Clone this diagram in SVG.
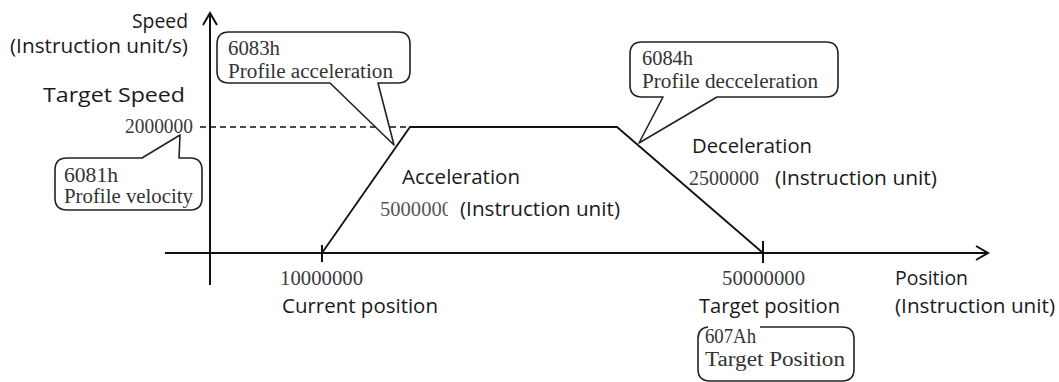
<svg xmlns="http://www.w3.org/2000/svg" width="1059" height="382" viewBox="0 0 1059 382">
  <style>
    .axis { fill: none; stroke: #111; stroke-width: 2; }
    .profile { fill: none; stroke: #111; stroke-width: 1.8; stroke-linejoin: miter; }
    .dash { fill: none; stroke: #111; stroke-width: 1.6; stroke-dasharray: 6 4; }
    .bubble { fill: #fff; stroke: #222; stroke-width: 1.6; stroke-linejoin: round; }
    .sans { font-family: "Open Sans", "Noto Sans", "Liberation Sans", sans-serif; font-size: 20px; fill: #1a1a1a; }
    .serif { font-family: "Liberation Serif", "DejaVu Serif", serif; font-size: 20px; fill: #333; }
    .num { font-family: "Liberation Serif", "DejaVu Serif", serif; font-size: 20px; fill: #3a3a3a; }
    .faint { fill: #555; }
  </style>
  <defs>
    <clipPath id="clip-accel-value">
      <rect x="370" y="190" width="78" height="40"/>
    </clipPath>
  </defs>

  <rect width="1059" height="382" fill="#fff"/>

  <!-- axes -->
  <g id="axes">
    <line class="axis" x1="210" y1="285" x2="210" y2="14"/>
    <polyline class="axis" points="203,25 210,13 217,25"/>
    <line class="axis" x1="165" y1="253" x2="987" y2="253"/>
    <polyline class="axis" points="976,246 988,253 976,260"/>
    <line class="axis" x1="322" y1="245" x2="322" y2="262"/>
    <line class="axis" x1="763" y1="241" x2="763" y2="263"/>
  </g>

  <!-- speed profile -->
  <g id="connectors">
    <line class="dash" x1="200" y1="127" x2="408" y2="127"/>
    <polyline class="profile" points="322,253 410,127 617,127 763,253"/>
  </g>

  <!-- axis labels -->
  <g id="speed-axis-label">
    <text class="sans" x="188" y="28" text-anchor="end" textLength="56" lengthAdjust="spacingAndGlyphs">Speed</text>
    <text class="sans" x="188" y="53" text-anchor="end" textLength="178" lengthAdjust="spacingAndGlyphs">(Instruction unit/s)</text>
    <text class="sans" x="185" y="102" text-anchor="end" textLength="142" lengthAdjust="spacingAndGlyphs">Target Speed</text>
    <text class="num" x="193" y="133" text-anchor="end" textLength="68" lengthAdjust="spacingAndGlyphs">2000000</text>
  </g>

  <g id="position-axis-label">
    <text class="sans" x="895" y="285" textLength="73" lengthAdjust="spacingAndGlyphs">Position</text>
    <text class="sans" x="895" y="313" textLength="160" lengthAdjust="spacingAndGlyphs">(Instruction unit)</text>
  </g>

  <g id="current-position">
    <text class="num" x="280" y="285" textLength="83" lengthAdjust="spacingAndGlyphs">10000000</text>
    <text class="sans" x="282" y="313" textLength="156" lengthAdjust="spacingAndGlyphs">Current position</text>
  </g>

  <g id="target-position">
    <text class="num" x="722" y="285" textLength="83" lengthAdjust="spacingAndGlyphs">50000000</text>
    <text class="sans" x="699" y="313" textLength="141" lengthAdjust="spacingAndGlyphs">Target position</text>
  </g>

  <g id="acceleration">
    <text class="sans" x="402" y="184" textLength="118" lengthAdjust="spacingAndGlyphs">Acceleration</text>
    <text class="num faint" x="380" y="216" textLength="72" lengthAdjust="spacingAndGlyphs" clip-path="url(#clip-accel-value)">5000000</text>
    <text class="sans" x="460" y="216" textLength="160" lengthAdjust="spacingAndGlyphs">(Instruction unit)</text>
  </g>

  <g id="deceleration">
    <text class="sans" x="692" y="153" textLength="120" lengthAdjust="spacingAndGlyphs">Deceleration</text>
    <text class="num" x="689" y="185" textLength="70" lengthAdjust="spacingAndGlyphs">2500000</text>
    <text class="sans" x="775" y="185" textLength="162" lengthAdjust="spacingAndGlyphs">(Instruction unit)</text>
  </g>

  <!-- object dictionary callouts -->
  <g id="callout-6083h">
    <path class="bubble" d="M229,32 H398 Q410,32 410,44 V71 Q410,83 398,83 H378 L394,145 L330,83 H229 Q217,83 217,71 V44 Q217,32 229,32 Z"/>
    <text class="serif" x="228" y="55" textLength="52" lengthAdjust="spacingAndGlyphs">6083h</text>
    <text class="serif" x="228" y="78" textLength="165" lengthAdjust="spacingAndGlyphs">Profile acceleration</text>
  </g>

  <g id="callout-6084h">
    <path class="bubble" d="M642,42 H826 Q838,42 838,54 V85 Q838,97 826,97 H717 L639,143 L663,97 H642 Q630,97 630,85 V54 Q630,42 642,42 Z"/>
    <text class="serif" x="642" y="65" textLength="51" lengthAdjust="spacingAndGlyphs">6084h</text>
    <text class="serif" x="642" y="88" textLength="176" lengthAdjust="spacingAndGlyphs">Profile decceleration</text>
  </g>

  <g id="callout-6081h">
    <path class="bubble" d="M67,158 H142 L180,135 L179,158 H190 Q202,158 202,170 V198 Q202,210 190,210 H67 Q55,210 55,198 V170 Q55,158 67,158 Z"/>
    <text class="serif" x="64" y="182" textLength="54" lengthAdjust="spacingAndGlyphs">6081h</text>
    <text class="serif" x="64" y="203" textLength="129" lengthAdjust="spacingAndGlyphs">Profile velocity</text>
  </g>

  <g id="callout-607Ah">
    <path class="bubble" style="fill:none" d="M760,327 H842 Q854,327 854,339 V369 Q854,381 842,381 H710 Q698,381 698,369 V339 Q698,328 708,327"/>
    <text class="serif" x="705" y="343" textLength="51" lengthAdjust="spacingAndGlyphs">607Ah</text>
    <text class="serif" x="705" y="366" textLength="140" lengthAdjust="spacingAndGlyphs">Target Position</text>
  </g>
</svg>
